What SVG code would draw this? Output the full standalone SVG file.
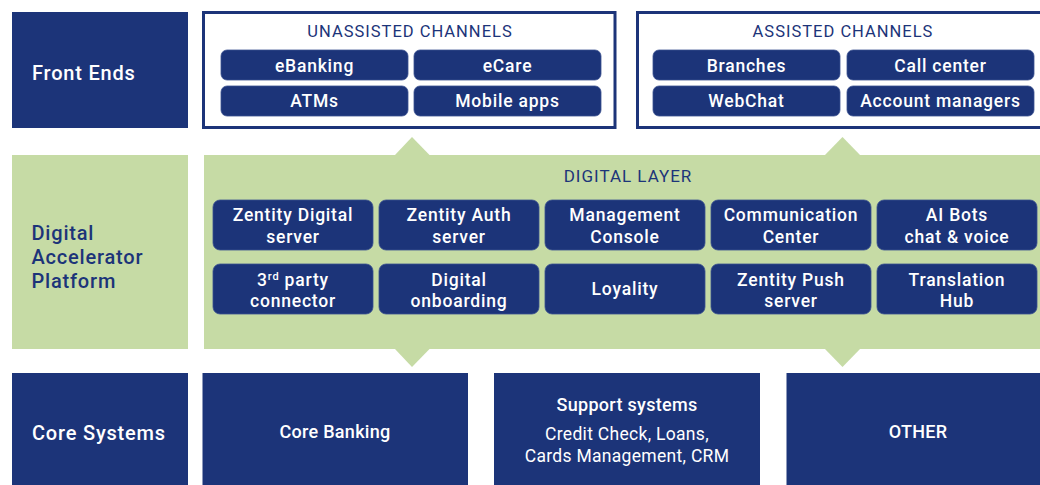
<svg xmlns="http://www.w3.org/2000/svg" width="1040" height="485" viewBox="0 0 1040 485">
  <style>
    .navy { fill: #1c3479; }
    .green { fill: #c6dba5; }
    .frame { fill: #ffffff; stroke: #1c3479; stroke-width: 3; }
    .pill { fill: #1c3479; stroke: #3b5290; stroke-width: 0.8; }
    text { font-family: Roboto, "Liberation Sans", sans-serif; }
    .lbl { fill: #ffffff; font-size: 20px; font-weight: 500; letter-spacing: 0.8px; }
    .lbl-dk { fill: #1c3479; font-size: 20px; font-weight: 500; letter-spacing: 0.8px; }
    .head { fill: #1c3479; font-size: 16.5px; font-weight: 400; letter-spacing: 1px; text-anchor: middle; }
    .pt { fill: #ffffff; font-size: 17.5px; font-weight: 500; letter-spacing: 0.8px; text-anchor: middle; }
    .ct { fill: #ffffff; font-size: 18px; font-weight: 500; letter-spacing: 0.3px; text-anchor: middle; }
    .ct2 { fill: #ffffff; font-size: 17.5px; font-weight: 400; letter-spacing: 0.3px; text-anchor: middle; }
  </style>

  <rect width="1040" height="485" fill="#ffffff"/>

  <!-- Row labels -->
  <g id="front-ends">
    <rect class="navy" x="12" y="12" width="176" height="116"/>
    <text class="lbl" x="32" y="80">Front Ends</text>
  </g>
  <g id="platform">
    <rect class="green" x="12" y="155" width="176" height="194"/>
    <text class="lbl-dk" x="31.5" y="240">Digital</text>
    <text class="lbl-dk" x="31.5" y="264">Accelerator</text>
    <text class="lbl-dk" x="31.5" y="288">Platform</text>
  </g>
  <g id="core-systems">
    <rect class="navy" x="12" y="373" width="176" height="112"/>
    <text class="lbl" x="32" y="440">Core Systems</text>
  </g>

  <!-- Unassisted channels -->
  <g id="unassisted">
    <rect class="frame" x="203.5" y="12.5" width="411.5" height="115"/>
    <text class="head" x="410" y="36.5">UNASSISTED CHANNELS</text>
    <g id="ebanking"><rect class="pill" x="221" y="50" width="187" height="30" rx="6"/><text class="pt" x="314.5" y="71.5">eBanking</text></g>
    <g id="ecare"><rect class="pill" x="414" y="50" width="187" height="30" rx="6"/><text class="pt" x="507.5" y="71.5">eCare</text></g>
    <g id="atms"><rect class="pill" x="221" y="86" width="187" height="30" rx="6"/><text class="pt" x="314.5" y="107">ATMs</text></g>
    <g id="mobile-apps"><rect class="pill" x="414" y="86" width="187" height="30" rx="6"/><text class="pt" x="507.5" y="107">Mobile apps</text></g>
  </g>

  <!-- Assisted channels -->
  <g id="assisted">
    <rect class="frame" x="637.5" y="12.5" width="420" height="115"/>
    <text class="head" x="843" y="36.5">ASSISTED CHANNELS</text>
    <g id="branches"><rect class="pill" x="653" y="50" width="187" height="30" rx="6"/><text class="pt" x="746.5" y="71.5">Branches</text></g>
    <g id="call-center"><rect class="pill" x="847" y="50" width="187" height="30" rx="6"/><text class="pt" x="940.5" y="71.5">Call center</text></g>
    <g id="webchat"><rect class="pill" x="653" y="86" width="187" height="30" rx="6"/><text class="pt" x="746.5" y="107">WebChat</text></g>
    <g id="account-managers"><rect class="pill" x="847" y="86" width="187" height="30" rx="6"/><text class="pt" x="940.5" y="107">Account managers</text></g>
  </g>

  <!-- Digital layer -->
  <g id="digital-layer">
    <rect class="green" x="204" y="155" width="836" height="194"/>
    <text class="head" x="628" y="181.5" style="font-size:17px">DIGITAL LAYER</text>
    <g id="digital-server"><rect class="pill" x="213" y="200" width="160" height="50" rx="7"/><text class="pt" x="293" y="221">Zentity Digital</text><text class="pt" x="293" y="243">server</text></g>
    <g id="auth-server"><rect class="pill" x="379" y="200" width="160" height="50" rx="7"/><text class="pt" x="459" y="221">Zentity Auth</text><text class="pt" x="459" y="243">server</text></g>
    <g id="management-console"><rect class="pill" x="545" y="200" width="160" height="50" rx="7"/><text class="pt" x="625" y="221">Management</text><text class="pt" x="625" y="243">Console</text></g>
    <g id="communication-center"><rect class="pill" x="711" y="200" width="160" height="50" rx="7"/><text class="pt" x="791" y="221">Communication</text><text class="pt" x="791" y="243">Center</text></g>
    <g id="ai-bots"><rect class="pill" x="877" y="200" width="160" height="50" rx="7"/><text class="pt" x="957" y="221">AI Bots</text><text class="pt" x="957" y="243">chat &amp; voice</text></g>
    <g id="third-party"><rect class="pill" x="213" y="264" width="160" height="50" rx="7"/><text class="pt" x="293" y="285.5">3<tspan font-size="11" dy="-6">rd</tspan><tspan dy="6"> party</tspan></text><text class="pt" x="293" y="307">connector</text></g>
    <g id="onboarding"><rect class="pill" x="379" y="264" width="160" height="50" rx="7"/><text class="pt" x="459" y="285.5">Digital</text><text class="pt" x="459" y="307">onboarding</text></g>
    <g id="loyality"><rect class="pill" x="545" y="264" width="160" height="50" rx="7"/><text class="pt" x="625" y="295">Loyality</text></g>
    <g id="push-server"><rect class="pill" x="711" y="264" width="160" height="50" rx="7"/><text class="pt" x="791" y="285.5">Zentity Push</text><text class="pt" x="791" y="307">server</text></g>
    <g id="translation-hub"><rect class="pill" x="877" y="264" width="160" height="50" rx="7"/><text class="pt" x="957" y="285.5">Translation</text><text class="pt" x="957" y="307">Hub</text></g>
  </g>

  <!-- Core systems -->
  <g id="core-banking">
    <rect class="navy" x="202.5" y="373" width="265.5" height="112"/>
    <text class="ct" x="335" y="438">Core Banking</text>
  </g>
  <g id="support-systems">
    <rect class="navy" x="494" y="373" width="266" height="112"/>
    <text class="ct" x="627" y="411">Support systems</text>
    <text class="ct2" x="627" y="440">Credit Check, Loans,</text>
    <text class="ct2" x="627" y="462">Cards Management, CRM</text>
  </g>
  <g id="other">
    <rect class="navy" x="786.5" y="373" width="260" height="112"/>
    <text class="ct" x="918" y="438">OTHER</text>
  </g>

  <!-- Connectors: wedge arrows between layers -->
  <g id="connectors" class="green">
    <polygon points="394.5,155.5 412,137 430,155.5"/>
    <polygon points="824.5,155.5 842.5,137 860.5,155.5"/>
    <polygon points="394.5,348.5 412,367 430,348.5"/>
    <polygon points="824.5,348.5 842.5,367 860.5,348.5"/>
  </g>
</svg>
